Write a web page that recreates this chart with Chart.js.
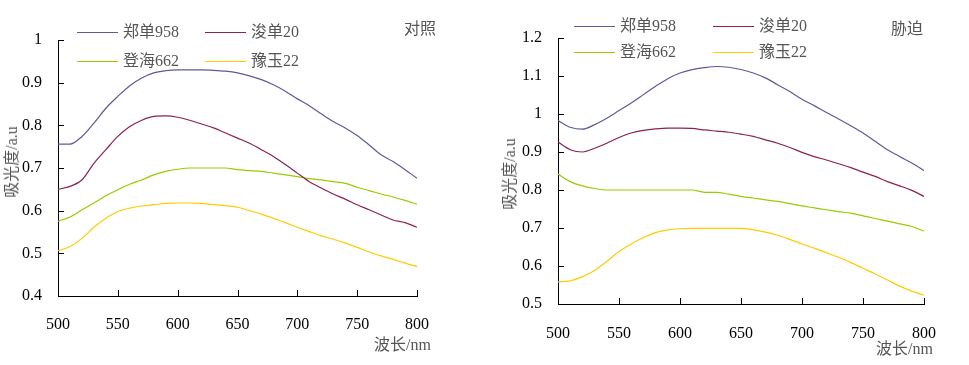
<!DOCTYPE html>
<html>
<head>
<meta charset="utf-8">
<script src="https://cdn.jsdelivr.net/npm/chart.js@4.4.1/dist/chart.umd.min.js"></script>
<style>
	body { margin: 0; background: #fff; width: 969px; height: 365px; overflow: hidden; position: relative; font-family: "Liberation Serif", "Noto Sans CJK SC", serif; }
	.box { position: absolute; top: 0; height: 365px; }
	.lbl { position: absolute; font-size: 16px; color: #555; white-space: nowrap; line-height: 18px; }
	.leg { position: absolute; height: 1px; width: 41px; }
	.ytitle { position: absolute; font-size: 16px; color: #555; white-space: nowrap; transform: translate(-50%, -50%) rotate(-90deg); line-height: 18px; }
</style>
</head>
<body>
<div class="box" style="left:0;width:440px"><canvas id="ctrlChart"></canvas></div>
<div class="box" style="left:490px;width:479px"><canvas id="stressChart"></canvas></div>
<div id="overlay"></div>
<script>
const WAVES = [500,510,520,530,540,550,560,570,580,590,600,610,620,630,640,650,660,670,680,690,700,710,720,730,740,750,760,770,780,790,800];
const NAMES = ['郑单958', '浚单20', '登海662', '豫玉22'];
const COLORS = ['#5b5b9b', '#8b2252', '#99cc00', '#ffcc00'];

// 对照
const ctrl_zd958 = [0.756,0.756,0.774,0.805,0.840,0.868,0.893,0.911,0.923,0.928,0.930,0.930,0.930,0.929,0.927,0.923,0.916,0.907,0.895,0.880,0.862,0.846,0.827,0.809,0.794,0.776,0.754,0.731,0.715,0.696,0.676];
const ctrl_jd20 = [0.650,0.657,0.672,0.711,0.743,0.774,0.797,0.812,0.821,0.822,0.819,0.812,0.803,0.794,0.782,0.770,0.758,0.743,0.727,0.708,0.688,0.668,0.653,0.639,0.627,0.614,0.602,0.590,0.578,0.572,0.561];
const ctrl_dh662 = [0.575,0.585,0.602,0.618,0.635,0.649,0.662,0.672,0.684,0.692,0.697,0.700,0.700,0.700,0.700,0.696,0.694,0.692,0.688,0.684,0.680,0.675,0.672,0.668,0.664,0.655,0.647,0.639,0.632,0.624,0.615];
const ctrl_yy22 = [0.506,0.516,0.535,0.561,0.582,0.598,0.606,0.611,0.614,0.617,0.618,0.618,0.617,0.614,0.612,0.608,0.600,0.592,0.582,0.572,0.561,0.551,0.541,0.533,0.524,0.514,0.503,0.494,0.486,0.477,0.469];

// 胁迫
const str_zd958 = [0.983,0.965,0.960,0.972,0.989,1.009,1.029,1.051,1.073,1.093,1.108,1.117,1.122,1.125,1.123,1.117,1.108,1.095,1.077,1.059,1.039,1.022,1.004,0.987,0.969,0.950,0.928,0.906,0.888,0.871,0.851];
const str_jd20 = [0.926,0.906,0.900,0.910,0.923,0.938,0.950,0.957,0.961,0.963,0.963,0.962,0.958,0.955,0.952,0.947,0.941,0.932,0.923,0.912,0.899,0.888,0.879,0.869,0.859,0.847,0.836,0.822,0.811,0.799,0.783];
const str_dh662 = [0.842,0.822,0.811,0.804,0.800,0.800,0.800,0.800,0.800,0.800,0.800,0.800,0.794,0.794,0.789,0.783,0.779,0.774,0.770,0.764,0.758,0.753,0.748,0.743,0.739,0.732,0.725,0.718,0.711,0.704,0.692];
const str_yy22 = [0.558,0.561,0.572,0.588,0.612,0.638,0.658,0.675,0.688,0.695,0.698,0.699,0.699,0.699,0.699,0.699,0.695,0.689,0.681,0.670,0.658,0.647,0.635,0.623,0.609,0.594,0.579,0.563,0.547,0.534,0.523];

const FONT = { family: '"Liberation Serif", "Noto Sans CJK SC", serif', size: 16 };

// inward tick marks
const innerTicks = {
	id: 'innerTicks',
	afterDraw: (chart) => {
		const { ctx, chartArea: {left, bottom}, scales: {x, y} } = chart;
		ctx.save();
		ctx.strokeStyle = '#000';
		ctx.lineWidth = 1;
		ctx.beginPath();
		x.ticks.forEach(t => {
			let px = Math.round(x.getPixelForValue(t.value)) + 0.5;
			ctx.moveTo(px, bottom);
			ctx.lineTo(px, bottom - 6);
		});
		y.ticks.forEach(t => {
			let py = Math.round(y.getPixelForValue(t.value)) + 0.5;
			ctx.moveTo(left, py);
			ctx.lineTo(left + 6, py);
		});
		ctx.stroke();
		ctx.restore();
	}
};

function makeChart(id, series, yMin, yMax, box) {
	const datasets = series.map((s, i) => ({
		label: NAMES[i],
		data: WAVES.map((w, j) => ({x: w, y: s[j]})),
		borderColor: COLORS[i],
		borderWidth: 1.2,
		pointRadius: 0,
		tension: 0.4,
		cubicInterpolationMode: 'monotone',
	}));
	return new Chart(document.getElementById(id), {
		type: 'line',
		data: { datasets: datasets },
		options: {
			responsive: false,
			animation: false,
			layout: { padding: { left: 0, right: box.right, top: box.top, bottom: 0 } },
			plugins: { legend: { display: false }, tooltip: { enabled: false } },
			scales: {
				x: {
					type: 'linear', min: 500, max: 800,
					grid: { display: false },
					border: { display: true, color: '#000', width: 1 },
					ticks: { stepSize: 50, color: '#000', font: FONT, padding: box.xpad, maxRotation: 0 },
					afterFit: (s) => { s.height = box.xh; },
				},
				y: {
					min: yMin, max: yMax,
					grid: { display: false },
					border: { display: true, color: '#000', width: 1 },
					ticks: {
						stepSize: 0.1, color: '#000', font: FONT, padding: 8,
						callback: (value) => String(Math.round(value * 10) / 10),
					},
					afterFit: (s) => { s.width = box.yw; },
				},
			},
		},
		plugins: [innerTicks],
	});
}

function sizeCanvas(id, w, h) {
	const c = document.getElementById(id);
	c.width = w; c.height = h;
	c.style.width = w + 'px'; c.style.height = h + 'px';
}

sizeCanvas('ctrlChart', 440, 365);
sizeCanvas('stressChart', 479, 365);

makeChart('ctrlChart', [ctrl_zd958, ctrl_jd20, ctrl_dh662, ctrl_yy22], 0.4, 1.0,
	{ right: 19, top: 40, xh: 69, yw: 58, xpad: 11 });
makeChart('stressChart', [str_zd958, str_jd20, str_dh662, str_yy22], 0.5, 1.2,
	{ right: 45, top: 38, xh: 61, yw: 68, xpad: 12 });

// legends, panel labels and axis titles as html text
const overlay = document.getElementById('overlay');
function addDiv(cls, html, style) {
	const d = document.createElement('div');
	d.className = cls;
	d.innerHTML = html;
	Object.assign(d.style, style);
	overlay.appendChild(d);
}
function addLegend(x1, x2, rowY) {
	NAMES.forEach((n, i) => {
		let lx = (i % 2 == 0) ? x1 : x2;
		let ly = rowY[Math.floor(i / 2)];
		addDiv('leg', '', { left: lx + 'px', top: ly + 'px', background: COLORS[i] });
		addDiv('lbl', n, { left: (lx + 46) + 'px', top: (ly - 9) + 'px' });
	});
}
addLegend(77, 205, [32, 61]);
addLegend(574, 713, [26, 52]);

addDiv('lbl', '对照', { left: '404px', top: '20px' });
addDiv('lbl', '胁迫', { left: '891px', top: '20px' });
addDiv('lbl', '波长/nm', { left: '374px', top: '336px' });
addDiv('lbl', '波长/nm', { left: '876px', top: '340px' });
addDiv('ytitle', '吸光度/a.u', { left: '12px', top: '162px' });
addDiv('ytitle', '吸光度/a.u', { left: '510px', top: '174px' });
</script>
</body>
</html>
